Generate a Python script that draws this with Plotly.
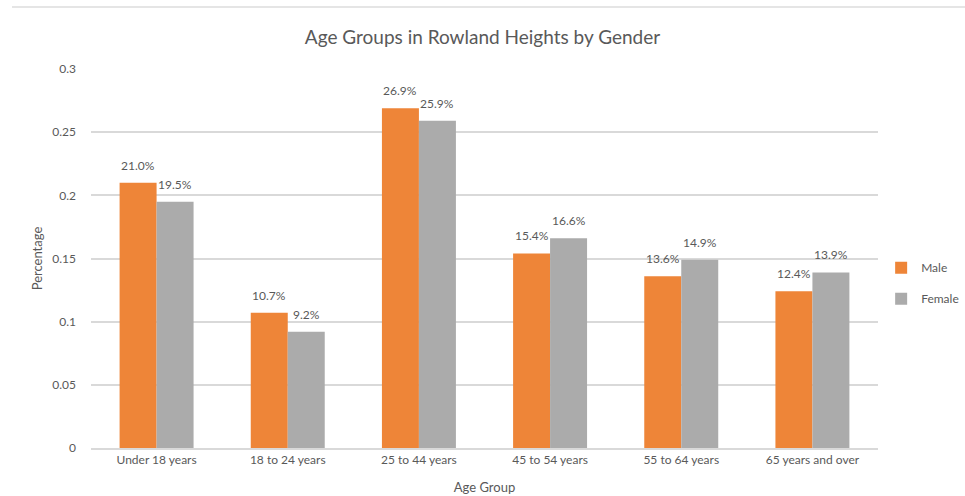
import plotly.graph_objects as go

categories = ["Under 18 years", "18 to 24 years", "25 to 44 years",
              "45 to 54 years", "55 to 64 years", "65 years and over"]
male = [0.210, 0.107, 0.269, 0.154, 0.136, 0.124]
female = [0.195, 0.092, 0.259, 0.166, 0.149, 0.139]
y_ticks = [0, 0.05, 0.1, 0.15, 0.2, 0.25, 0.3]
y_tick_labels = ["0", "0.05", "0.1", "0.15", "0.2", "0.25", "0.3"]

FONT = "Lato, 'Open Sans', sans-serif"
TXT = "#595959"
ORANGE = "#EE8538"
GRAY = "#ABABAB"

fig = go.Figure()
fig.add_trace(go.Bar(name="Male", x=categories, y=male, legendgroup="m",
                     marker=dict(color=ORANGE, line=dict(width=0))))
fig.add_trace(go.Bar(name="Female", x=categories, y=female, legendgroup="f",
                     marker=dict(color=GRAY, line=dict(width=0))))

half_bar_px = 18.5
annotations = []
for series, shift in ((male, -half_bar_px), (female, half_bar_px)):
    for c, v in zip(categories, series):
        annotations.append(dict(
            x=c, y=v, xref="x", yref="y", text=f"{v*100:.1f}%",
            showarrow=False, xshift=shift, yshift=8, yanchor="bottom",
            font=dict(family=FONT, size=12, color=TXT)))

fig.update_layout(
    width=965, height=496,
    margin=dict(l=91, r=87, t=69, b=48, autoexpand=False),
    paper_bgcolor="white", plot_bgcolor="white",
    barmode="group", bargap=0.436, bargroupgap=0,
    title=dict(text="Age Groups in Rowland Heights by Gender", x=0.5, xanchor="center",
               y=1 - 37 / 496, yanchor="middle",
               font=dict(family=FONT, size=19, color=TXT)),
    font=dict(family=FONT, size=12, color=TXT),
    legend=dict(x=1.004, y=0.435, xanchor="left", yanchor="middle",
                font=dict(family=FONT, size=12, color=TXT),
                itemwidth=30, tracegroupgap=12, bgcolor="rgba(0,0,0,0)"),
    annotations=annotations,
    shapes=[dict(type="line", xref="paper", yref="paper",
                 x0=(12 - 91) / 787, x1=(965 - 91) / 787,
                 y0=(448 - 7) / 379, y1=(448 - 7) / 379,
                 line=dict(color="#DCDCDC", width=1.5))],
)
fig.update_xaxes(
    title=dict(text="Age Group", font=dict(family=FONT, size=13, color=TXT), standoff=17),
    showgrid=False, showline=True, linecolor="#D9D9D9", linewidth=1.5,
    ticks="", tickfont=dict(family=FONT, size=12, color=TXT), fixedrange=True)
fig.update_yaxes(
    title=dict(text="Percentage", font=dict(family=FONT, size=13, color=TXT), standoff=6),
    range=[0, 0.3], tickvals=y_ticks, ticktext=y_tick_labels,
    showgrid=True, gridcolor="#D9D9D9", gridwidth=1.5, zeroline=False,
    showline=False, ticks="", ticklabelstandoff=14,
    tickfont=dict(family=FONT, size=12, color=TXT), fixedrange=True)

fig.write_html("out.html")
